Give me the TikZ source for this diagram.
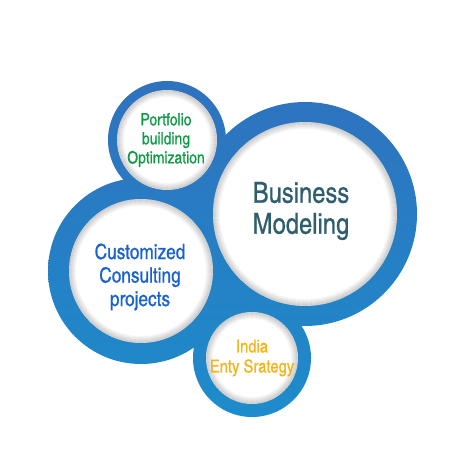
\documentclass[tikz,border=0pt]{standalone}
\usepackage{fontspec}
\newfontfamily\cn[FakeBold=0.6]{TeX Gyre Heros Cn}
\usetikzlibrary{positioning}
\definecolor{ringtop}{HTML}{2F72BE}
\definecolor{ringbot}{HTML}{1D8CCB}
\definecolor{bmteal}{HTML}{2E5E6E}
\definecolor{ccblue}{HTML}{1862D2}
\definecolor{pfgreen}{HTML}{0F9B46}
\definecolor{inorange}{HTML}{F5B418}
\tikzset{
    every node/.style={font=\cn},
    disc/.style={circle, fill=white, inner sep=0pt},
    txt/.style={align=center, inner sep=0pt},
}
% soft inner shadow along the edge of a white disc
\newcommand\discshadow[2]{%
  \foreach \k [evaluate=\k as \op using 0.17-0.024*\k] in {0,...,6}{
    \draw[black, opacity=\op, line width=1.1pt] (#1) circle[radius=#2-\k-0.5];
  }%
}

\begin{document}
\begin{tikzpicture}[x=1pt, y=-1pt]
\useasboundingbox (0,0) rectangle (450,470);
% centres of the four circles
\coordinate (pfc) at (167,140);
\coordinate (ccc) at (141,271);
\coordinate (bmc) at (305,214);
\coordinate (inc) at (252,358);
% blue blob (middle filled by the polygon of centres)
\shade[top color=ringtop, bottom color=ringbot]
  (pfc) -- (bmc) -- (inc) -- (ccc) -- cycle
  (pfc) circle[radius=59] (ccc) circle[radius=93]
  (bmc) circle[radius=112] (inc) circle[radius=59];
% white discs
\node[disc, minimum size=100pt] (pf) at (pfc) {};
\node[disc, minimum size=144pt] (cc) at (ccc) {};
\node[disc, minimum size=184pt] (bm) at (bmc) {};
\node[disc, minimum size=92pt] (in) at (inc) {};
\discshadow{pf}{50}
\discshadow{cc}{72}
\discshadow{bm}{92}
\discshadow{in}{46}
% texts
\node[txt, text=pfgreen, font=\cn\fontsize{17}{19}\selectfont] (pftext) at (166,140) {Portfolio\\building\\Optimization};
\node[txt, text=ccblue, font=\cn\fontsize{21}{23.5}\selectfont] (cctext) at (140,277) {Customized\\Consulting\\projects};
\node[txt, text=bmteal, font=\cn\fontsize{29}{31}\selectfont] (bmtext) at (301,211) {Business\\Modeling};
\node[txt, text=inorange, font=\cn\fontsize{18}{20}\selectfont] (intext) at (252,358) {India\\Enty Srategy};
\end{tikzpicture}
\end{document}
